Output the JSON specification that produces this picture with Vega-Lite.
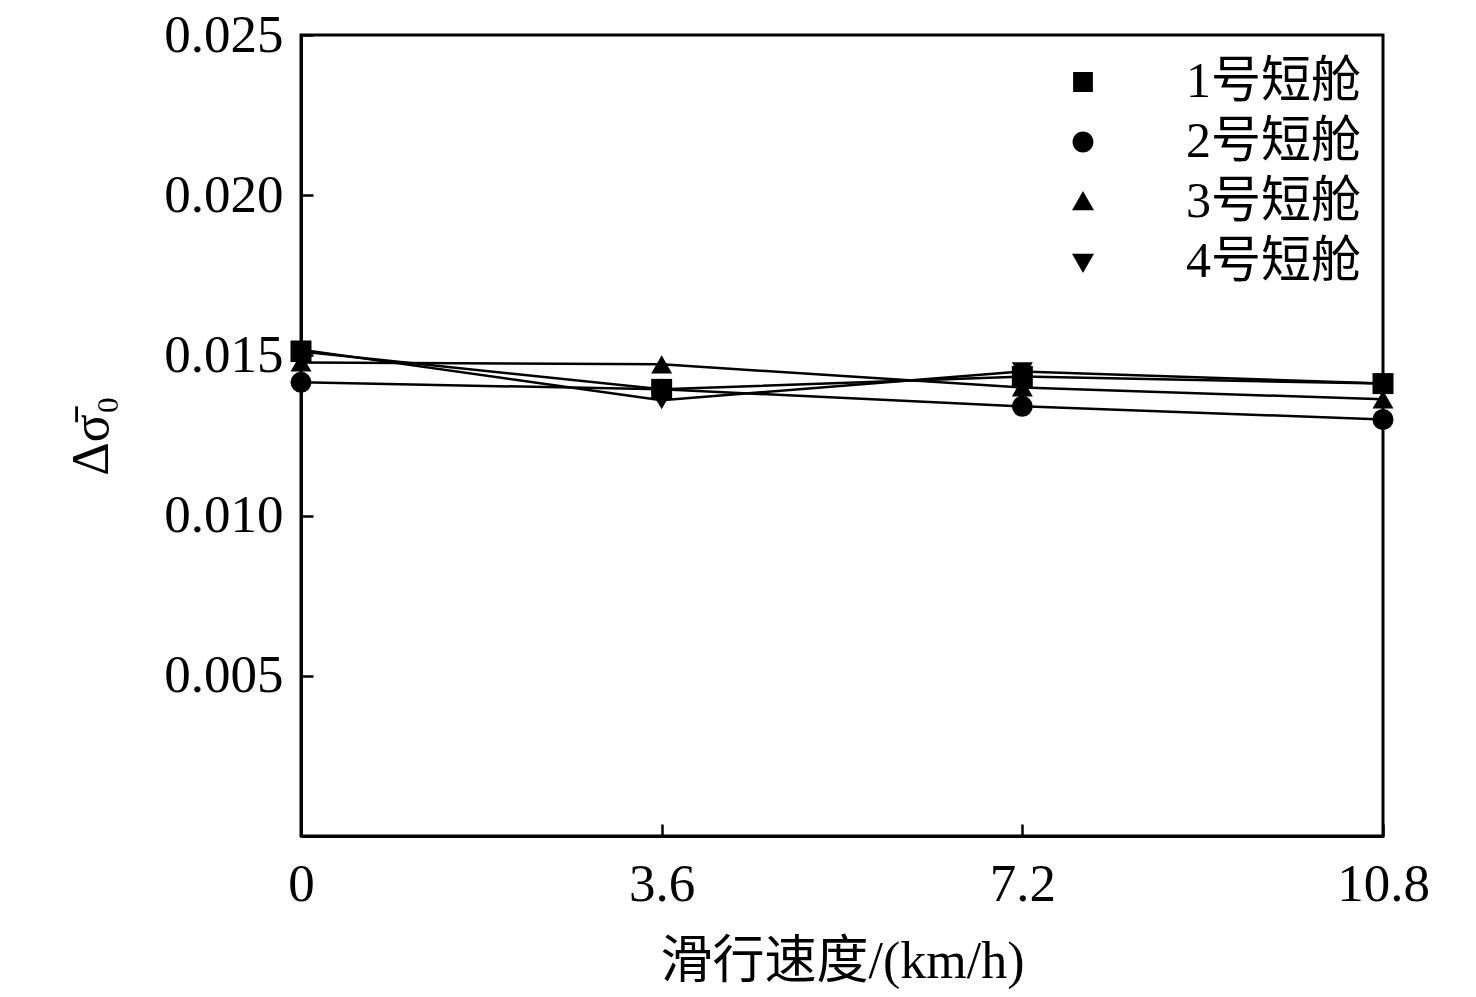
{
  "$schema": "https://vega.github.io/schema/vega-lite/v6.json",
  "width": 1082,
  "height": 801,
  "autosize": {"type": "none"},
  "padding": {"left": 301, "top": 35, "right": 93, "bottom": 161},
  "background": "white",
  "config": {
    "view": {"stroke": "black", "strokeWidth": 3},
    "font": "Liberation Serif",
    "axis": {
      "grid": false,
      "domainColor": "black",
      "domainWidth": 3,
      "tickColor": "black",
      "tickWidth": 2.5,
      "tickSize": -12,
      "labelFont": "Liberation Serif",
      "labelFontSize": 53,
      "labelColor": "black",
      "titleFont": "Liberation Serif, Noto Sans CJK SC",
      "titleFontSize": 52,
      "titleFontWeight": "normal",
      "titleColor": "black",
      "labelFlush": false,
      "labelOverlap": false
    },
    "legend": {
      "labelFont": "Liberation Serif, Noto Sans CJK SC",
      "labelFontSize": 50,
      "labelColor": "black",
      "labelLimit": 500
    }
  },
  "data": {
    "values": [
      {"speed": 0, "value": 0.01512, "series": "1号短舱"},
      {"speed": 3.6, "value": 0.01394, "series": "1号短舱"},
      {"speed": 7.2, "value": 0.01434, "series": "1号短舱"},
      {"speed": 10.8, "value": 0.01412, "series": "1号短舱"},
      {"speed": 0, "value": 0.01416, "series": "2号短舱"},
      {"speed": 3.6, "value": 0.01394, "series": "2号短舱"},
      {"speed": 7.2, "value": 0.01341, "series": "2号短舱"},
      {"speed": 10.8, "value": 0.01300, "series": "2号短舱"},
      {"speed": 0, "value": 0.01478, "series": "3号短舱"},
      {"speed": 3.6, "value": 0.01472, "series": "3号短舱"},
      {"speed": 7.2, "value": 0.01400, "series": "3号短舱"},
      {"speed": 10.8, "value": 0.01363, "series": "3号短舱"},
      {"speed": 0, "value": 0.01518, "series": "4号短舱"},
      {"speed": 3.6, "value": 0.01360, "series": "4号短舱"},
      {"speed": 7.2, "value": 0.01450, "series": "4号短舱"},
      {"speed": 10.8, "value": 0.01412, "series": "4号短舱"}
    ]
  },
  "encoding": {
    "x": {
      "field": "speed",
      "type": "quantitative",
      "scale": {"domain": [0, 10.8], "nice": false, "zero": false},
      "axis": {
        "title": "滑行速度/(km/h)",
        "values": [0, 3.6, 7.2, 10.8],
        "format": ".1~f",
        "labelPadding": 34,
        "titlePadding": 25
      }
    },
    "y": {
      "field": "value",
      "type": "quantitative",
      "scale": {"domain": [0, 0.025], "nice": false},
      "axis": {
        "title": "Δσ̄₀",
        "values": [0.005, 0.01, 0.015, 0.02, 0.025],
        "format": ".3f",
        "labelPadding": 30,
        "titlePadding": 45
      }
    }
  },
  "layer": [
    {
      "mark": {"type": "line", "color": "black", "strokeWidth": 2.5},
      "encoding": {"detail": {"field": "series"}}
    },
    {
      "mark": {"type": "point", "filled": true, "color": "black", "opacity": 1, "size": 440},
      "encoding": {
        "shape": {
          "field": "series",
          "type": "nominal",
          "scale": {
            "domain": ["1号短舱", "2号短舱", "3号短舱", "4号短舱"],
            "range": ["square", "circle", "triangle-up", "triangle-down"]
          },
          "legend": null
        }
      }
    },
    {
      "mark": {"type": "point", "filled": false, "fill": "black", "stroke": "black", "strokeWidth": 2.5, "opacity": 0, "size": 484},
      "encoding": {
        "shape": {
          "field": "series",
          "type": "nominal",
          "scale": {
            "domain": ["1号短舱", "2号短舱", "3号短舱", "4号短舱"],
            "range": [
              "M-5,0H-1M1,0H5M-0.9,-0.9H0.9V0.9H-0.9Z",
              "M-5,0H-1M1,0H5M-0.95,0A0.95,0.95,0,1,0,0.95,0A0.95,0.95,0,1,0,-0.95,0Z",
              "M-5,0H-1M1,0H5M0,-1L1,0.75H-1Z",
              "M-5,0H-1M1,0H5M-1,-0.75H1L0,1Z"
            ]
          },
          "legend": {
            "title": null,
            "orient": "top-right",
            "offset": 22,
            "symbolSize": 484,
            "symbolOpacity": 1,
            "symbolFillColor": "black",
            "symbolStrokeColor": "black",
            "symbolStrokeWidth": 2.5,
            "labelOffset": 78,
            "rowPadding": 10
          }
        }
      }
    }
  ],
  "resolve": {"scale": {"shape": "independent"}, "legend": {"shape": "independent"}}
}
